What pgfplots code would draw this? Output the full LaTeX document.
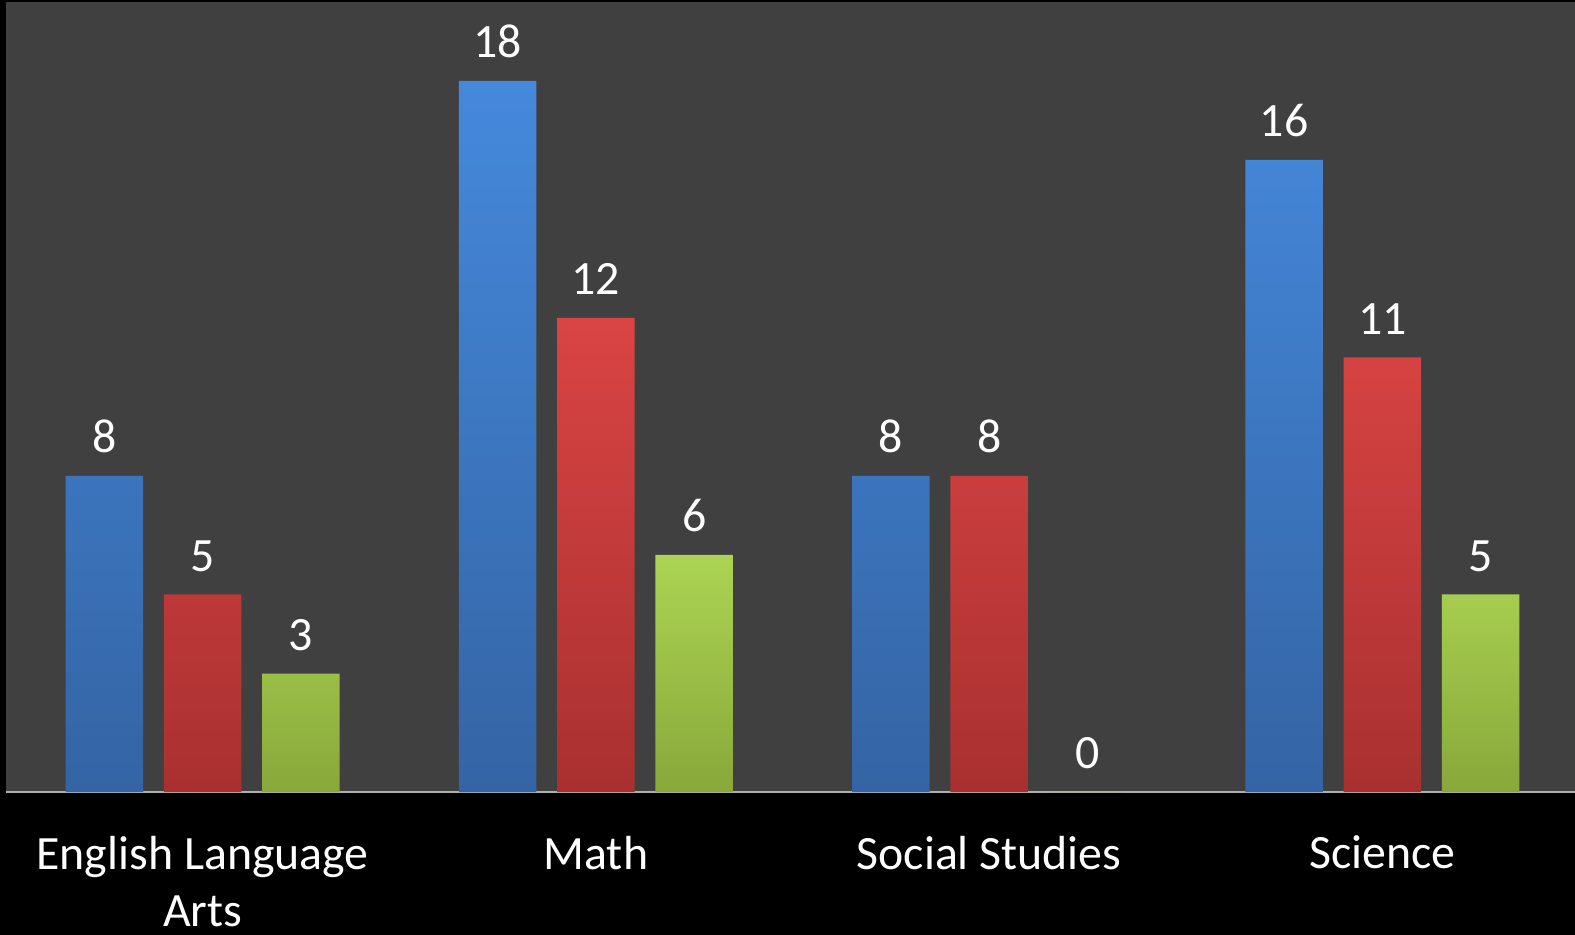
\documentclass[border=0pt]{standalone}
\usepackage{pgfplots}
\pgfplotsset{compat=1.18}
\usepackage{fontspec}
\setmainfont{Carlito}
\definecolor{bg}{HTML}{404040}
\definecolor{axgray}{HTML}{B0B0B0}
\definecolor{blueT}{HTML}{4589DC}
\definecolor{blueB}{HTML}{3464A4}
\definecolor{redT}{HTML}{DA4444}
\definecolor{redB}{HTML}{A93030}
\definecolor{greenT}{HTML}{ACD453}
\definecolor{greenB}{HTML}{88A83A}
\begin{document}
\begin{tikzpicture}
\fill[black] (-3bp,-71.5bp) rectangle (786.5bp,396bp);
\begin{axis}[
  scale only axis, width=786.5bp, height=395bp,
  xmin=-0.5, xmax=3.5, ymin=0, ymax=20,
  axis background/.style={fill=bg},
  axis y line=none, axis x line*=bottom,
  x axis line style={-, draw=axgray, line width=1bp},
  xtick={0,1,2,3},
  xticklabels={{English Language\\Arts},Math,{Social Studies},Science},
  major tick length=0pt,
  xticklabel style={font=\fontsize{24}{28.5}\selectfont, text=white, align=center, anchor=north, yshift=-18.5bp},
  ybar, bar width=0.197,
  nodes near coords,
  nodes near coords style={font=\fontsize{24}{28}\selectfont, text=white, yshift=8bp},
  /pgf/number format/assume math mode=true,
]
\addplot[bar shift=-0.25, draw=none, top color=blueT, bottom color=blueB] coordinates {(0,8) (1,18) (2,8) (3,16)};
\addplot[bar shift=0, draw=none, top color=redT, bottom color=redB] coordinates {(0,5) (1,12) (2,8) (3,11)};
\addplot[bar shift=0.25, draw=none, top color=greenT, bottom color=greenB] coordinates {(0,3) (1,6) (2,0) (3,5)};
\end{axis}
\pgfresetboundingbox
\path (-3bp,-71.5bp) rectangle (784.5bp,396bp);
\end{tikzpicture}
\end{document}
